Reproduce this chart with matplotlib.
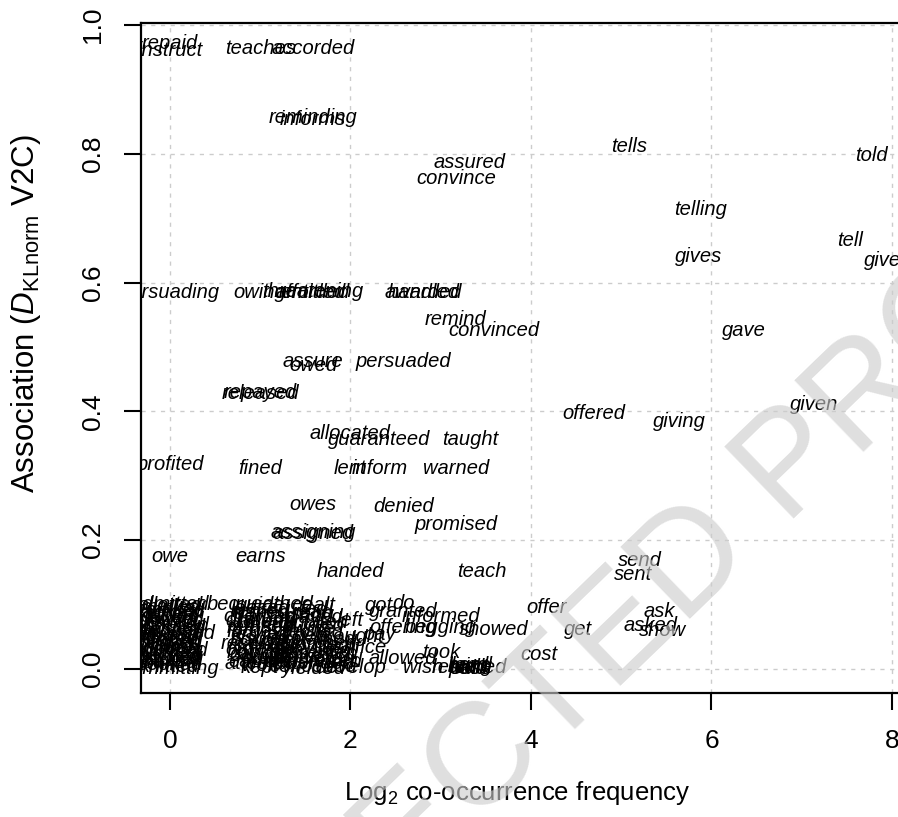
import matplotlib
matplotlib.use("Agg")
import matplotlib.pyplot as plt
import numpy as np

plt.rcParams["font.family"] = ["Liberation Sans", "DejaVu Sans"]
plt.rcParams["mathtext.fontset"] = "custom"
plt.rcParams["mathtext.rm"] = "Liberation Sans"
plt.rcParams["mathtext.it"] = "Liberation Sans:italic"

# verb, co-occurrence count, association score
verbs = [
    "repaid", "instruct", "teaches", "accorded", "reminding", "informs",
    "tells", "told", "assured", "convince", "telling", "tell", "gives", "give",
    "persuading", "owing", "afforded", "entitled", "threatening", "awarded", "handled",
    "remind", "convinced", "gave", "assure", "owed", "persuaded",
    "released", "repayed", "allocated", "guaranteed", "taught", "offered", "giving", "given",
    "profited", "fined", "lent", "inform", "warned", "owes", "denied", "promised",
    "assigned", "assigning", "owe", "earns", "handed", "teach", "send", "sent",
    "offer", "get", "cost", "ask", "asked", "show", "showed",
    "got", "do", "granted", "informed", "left", "offering", "begging",
    "took", "allowed", "wish", "pay", "brought", "write", "gets", "drawing", "guide",
    "sacrifice", "develop", "attested",
    "returned", "sold", "lend", "sell", "bring", "pass", "hand",
    # count 1
    "admitted", "allotted", "mailed", "emailed", "radioed", "wired", "cabled", "faxed",
    "phoned", "texted", "signalled", "shouted", "posted", "shipped", "forwarded", "tossed",
    "threw", "kicked", "slipped", "passed", "rolled", "flung", "lobbed", "bounced",
    "hurled", "pitched", "served", "poured", "fetched", "baked", "cooked", "knitted",
    "committing",
    # count 2
    "bequeathed", "leased", "rented", "loaned", "charged", "billed", "spared", "refused",
    "forgave", "envied", "issued", "bought", "reserved", "saved", "ordered", "booked",
    "caught", "found", "built", "earned", "won", "kept",
    # count 3
    "dealt", "fed", "read", "sang", "played", "dictated", "quoted", "recited",
    "explained", "described", "supplied", "provided", "presented", "donated",
    "delivered", "transferred", "extended", "conceded", "yielded",
]

counts = [
    1, 1, 2, 3, 3, 3,
    34, 218, 10, 9, 59, 186, 58, 239,
    1, 2, 3, 3, 3, 7, 7,
    9, 12, 82, 3, 3, 6,
    2, 2, 4, 5, 10, 26, 50, 141,
    1, 2, 4, 5, 9, 3, 6, 9,
    3, 3, 1, 2, 4, 11, 37, 35,
    18, 23, 17, 43, 40, 44, 12,
    5, 6, 6, 8, 4, 6, 8,
    8, 6, 7, 5, 4, 3, 3, 2, 2,
    4, 4, 2,
    10, 10, 10, 10, 10, 10, 10,
    1, 1, 1, 1, 1, 1, 1, 1,
    1, 1, 1, 1, 1, 1, 1, 1,
    1, 1, 1, 1, 1, 1, 1, 1,
    1, 1, 1, 1, 1, 1, 1, 1,
    1,
    2, 2, 2, 2, 2, 2, 2, 2,
    2, 2, 2, 2, 2, 2, 2, 2,
    2, 2, 2, 2, 2, 2,
    3, 3, 3, 3, 3, 3, 3, 3,
    3, 3, 3, 3, 3, 3,
    3, 3, 3, 3, 3,
]

assoc = [
    0.972, 0.960, 0.964, 0.964, 0.857, 0.853,
    0.811, 0.798, 0.786, 0.762, 0.713, 0.666, 0.640, 0.635,
    0.585, 0.585, 0.585, 0.584, 0.586, 0.584, 0.584,
    0.543, 0.525, 0.525, 0.477, 0.472, 0.477,
    0.428, 0.430, 0.366, 0.356, 0.356, 0.397, 0.384, 0.410,
    0.317, 0.312, 0.312, 0.312, 0.312, 0.255, 0.253, 0.225,
    0.211, 0.212, 0.174, 0.174, 0.151, 0.151, 0.169, 0.146,
    0.095, 0.061, 0.022, 0.089, 0.068, 0.059, 0.061,
    0.099, 0.102, 0.089, 0.081, 0.076, 0.064, 0.064,
    0.026, 0.017, 0.002, 0.053, 0.050, 0.061, 0.050, 0.076, 0.099,
    0.033, 0.003, 0.009,
    0.003, 0.000, 0.005, 0.002, 0.004, 0.001, 0.006,
    0.100, 0.098, 0.095, 0.091, 0.088, 0.085, 0.082, 0.078,
    0.075, 0.072, 0.068, 0.065, 0.062, 0.058, 0.055, 0.052,
    0.049, 0.046, 0.043, 0.040, 0.037, 0.034, 0.031, 0.028,
    0.025, 0.022, 0.019, 0.016, 0.013, 0.010, 0.007, 0.004,
    0.001,
    0.100, 0.094, 0.090, 0.086, 0.082, 0.072, 0.068, 0.064,
    0.058, 0.054, 0.048, 0.044, 0.040, 0.036, 0.030, 0.026,
    0.022, 0.018, 0.014, 0.011, 0.006, 0.003,
    0.098, 0.092, 0.088, 0.084, 0.080, 0.072, 0.068, 0.056,
    0.045, 0.040, 0.036, 0.028, 0.024, 0.020,
    0.016, 0.012, 0.008, 0.004, 0.001,
]

log_freq = np.log2(np.array(counts, dtype=float))

fig = plt.figure(figsize=(8.98, 8.17), dpi=100)
ax = fig.add_axes([0.157, 0.1518, 0.8815, 0.820])

for word, x, y in zip(verbs, log_freq, assoc):
    ax.text(x, y, word, fontsize=14.5, style="italic", ha="center", va="center",
            clip_on=True, color="black")

ax.set_xlim(-0.321, 8.45)
ax.set_ylim(-0.0373, 1.0031)
ax.set_xticks([0, 2, 4, 6, 8])
ax.set_yticks([0.0, 0.2, 0.4, 0.6, 0.8, 1.0])
ax.set_yticklabels(["0.0", "0.2", "0.4", "0.6", "0.8", "1.0"])
ax.grid(True, color="#cccccc", linestyle=(0, (3, 4)), linewidth=1)
ax.set_axisbelow(True)

for side in ["left", "bottom", "top", "right"]:
    ax.spines[side].set_linewidth(1.6)

ax.tick_params(direction="out", length=12, width=1.5, labelsize=19, pad=14)
for lab in ax.get_yticklabels():
    lab.set_rotation(90)
    lab.set_va("center")
    lab.set_ha("right")

ax.set_xlabel(r"Log$_2$ co-occurrence frequency", fontsize=18.5)
ax.set_ylabel(r"Association ($D_{\mathrm{KLnorm}}$ V2C)", fontsize=22.5)
ax.xaxis.set_label_coords(0.475, -0.128)
ax.yaxis.set_label_coords(-0.124, 0.567)

# proof watermark over the plot
fig.text(0.585, 0.1126, "UNCORRECTED PROOF", fontsize=104, rotation=44,
         rotation_mode="anchor", ha="center", va="center",
         color=(0.8, 0.8, 0.8), alpha=0.62, zorder=10)

fig.savefig("out.png", dpi=100)
